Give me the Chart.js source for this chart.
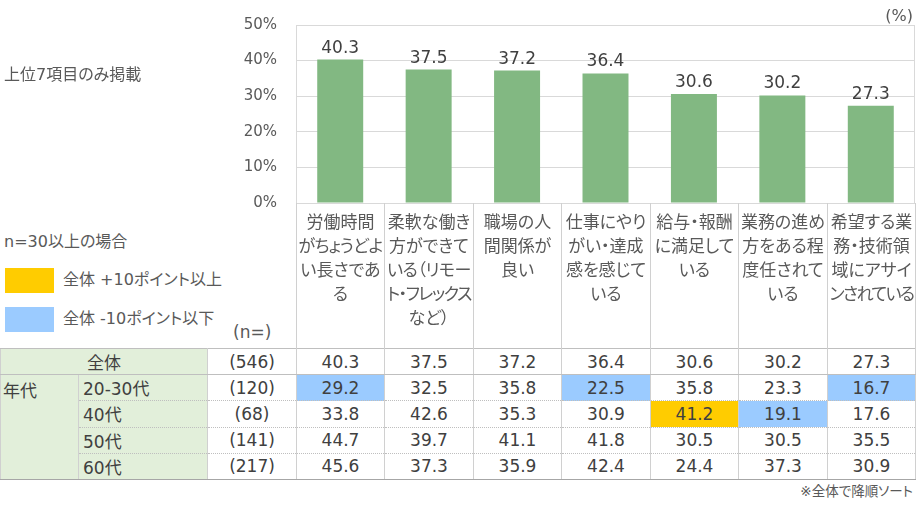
<!DOCTYPE html>
<html lang="ja">
<head>
<meta charset="utf-8">
<style>
  body { margin: 0; background: #fff; }
  #wrap { position: relative; width: 918px; height: 505px; overflow: hidden;
          font-family: "DejaVu Sans", "Noto Sans CJK JP", sans-serif; color: #595959;
          font-feature-settings: "palt"; }
  #chartBox { position: absolute; left: 0; top: 0; width: 918px; height: 215px; }
  .txt { position: absolute; white-space: nowrap; line-height: 20px; font-size: 16px; }
  .box { position: absolute; left: 5px; width: 49px; height: 25px; }
  .cat { position: absolute; top: 203px; height: 145px; box-sizing: border-box; border-left: 1px solid #D0D0D0;
         text-align: center; font-size: 17px; line-height: 24px; padding-top: 7px; white-space: nowrap; color: #595959; }
  .cat span { display: inline-block; }
  #tbl { position: absolute; left: 0; top: 348px; border-collapse: collapse; table-layout: fixed; font-size: 17px; }
  #tbl td { height: 25.2px; padding: 0; white-space: nowrap; color: #404040; text-align: center;
            border-left: 1px solid #D0D0D0; border-right: 1px solid #D0D0D0; }
  #tbl td.lab { background: #E2EFDA; text-align: left; padding-left: 4px; color: #404040; }
  #tbl tr.top td { border-top: 1px solid #BFBFBF; border-bottom: 1px solid #BFBFBF; }
  #tbl tr.age td { border-top: 1px dotted #BFBFBF; }
  #tbl tr.last td { border-bottom: 1px solid #A6A6A6; }
</style>
</head>
<body>
<div id="wrap">
  <div id="chartBox"><canvas id="chart"></canvas></div>
  <div class="txt" style="left:4px; top:65px;">上位7項目のみ掲載</div>
  <div class="txt" style="right:5px; top:6px;">(%)</div>
  <div class="txt" style="left:4px; top:232px;">n=30以上の場合</div>
  <div class="box" style="top:268px; background:#FFCC00;"></div>
  <div class="box" style="top:307px; background:#9BCBFF;"></div>
  <div class="txt" style="left:63px; top:270px;">全体 +10ポイント以上</div>
  <div class="txt" style="left:63px; top:309px;">全体 -10ポイント以下</div>
  <div class="txt" style="left:233px; top:322px; font-size:17px;">(n=)</div>
  <div class="txt" style="right:5px; top:481px; font-size:13.5px;">※全体で降順ソート</div>
  <div id="cats"></div>
  <table id="tbl"></table>
</div>

<script src="https://cdn.jsdelivr.net/npm/chart.js"></script>
<script>
// category labels, line breaks as in the original
const categories = [
  ['労働時間', 'がちょうどよ', 'い長さであ', 'る'],
  ['柔軟な働き', '方ができて', 'いる（リモー', 'ト・フレックス', 'など）'],
  ['職場の人', '間関係が', '良い'],
  ['仕事にやり', 'がい・達成', '感を感じて', 'いる'],
  ['給与・報酬', 'に満足して', 'いる'],
  ['業務の進め', '方をある程', '度任されて', 'いる'],
  ['希望する業', '務・技術領', '域にアサイ', 'ンされている']
];
const overall = [40.3, 37.5, 37.2, 36.4, 30.6, 30.2, 27.3];
const overallN = 546;
const ageGroups = ['20-30代', '40代', '50代', '60代'];
const ageN = [120, 68, 141, 217];
const age2030 = [29.2, 32.5, 35.8, 22.5, 35.8, 23.3, 16.7];
const age40 = [33.8, 42.6, 35.3, 30.9, 41.2, 19.1, 17.6];
const age50 = [44.7, 39.7, 41.1, 41.8, 30.5, 30.5, 35.5];
const age60 = [45.6, 37.3, 35.9, 42.4, 24.4, 37.3, 30.9];
const yTicks = [0, 10, 20, 30, 40, 50];

const ageValues = [age2030, age40, age50, age60];

// right border of the plot box
const frame = {
  id: 'frame',
  afterDraw(c) {
    const a = c.chartArea, ctx = c.ctx;
    ctx.save();
    ctx.strokeStyle = '#D9D9D9';
    ctx.lineWidth = 1;
    ctx.beginPath();
    ctx.moveTo(a.right - 0.5, a.top);
    ctx.lineTo(a.right - 0.5, a.bottom);
    ctx.stroke();
    ctx.restore();
  }
};

// values above bars
const valueLabels = {
  id: 'valueLabels',
  afterDatasetsDraw(c) {
    const ctx = c.ctx;
    ctx.save();
    ctx.font = '17px "DejaVu Sans"';
    ctx.fillStyle = '#404040';
    ctx.textAlign = 'center';
    ctx.textBaseline = 'alphabetic';
    c.getDatasetMeta(0).data.forEach(function(bar, i) {
      ctx.fillText(overall[i].toFixed(1), bar.x, bar.y - 7);
    });
    ctx.restore();
  }
};

const chart = new Chart(document.getElementById('chart'), {
  type: 'bar',
  data: {
    labels: categories.map(c => c.join('')),
    datasets: [{
      data: overall,
      backgroundColor: '#82B882',
      barPercentage: 0.52,
      categoryPercentage: 1
    }]
  },
  options: {
    responsive: true,
    maintainAspectRatio: false,
    animation: false,
    devicePixelRatio: 1,
    layout: { padding: { top: 25, right: 3, bottom: 12, left: 0 } },
    plugins: { legend: { display: false }, tooltip: { enabled: false } },
    scales: {
      x: { display: false },
      y: {
        min: 0,
        max: 50,
        afterBuildTicks: s => { s.ticks = yTicks.map(v => ({ value: v })); },
        afterFit: s => { s.width = 296; },
        ticks: {
          callback: v => v + '%',
          color: '#595959',
          font: { family: 'DejaVu Sans', size: 15 },
          padding: 0
        },
        // invisible tick marks push the labels away from the axis
        grid: { color: '#D9D9D9', drawTicks: true, tickLength: 19, tickColor: 'rgba(0,0,0,0)' },
        border: { color: '#D9D9D9' }
      }
    }
  },
  plugins: [frame, valueLabels]
});

// header cells + table aligned to the chart columns
const area = chart.chartArea;
const colW = (area.right - area.left) / categories.length;
const cats = document.getElementById('cats');
categories.forEach(function(lines, i) {
  const d = document.createElement('div');
  d.className = 'cat';
  const l = Math.round(area.left + i * colW);
  const r = Math.round(area.left + (i + 1) * colW);
  d.style.left = l + 'px';
  d.style.width = (r - l + (i === categories.length - 1 ? 1 : 0)) + 'px';
  if (i === categories.length - 1) d.style.borderRight = '1px solid #D0D0D0';
  d.innerHTML = lines.map(t => '<span>' + t + '</span>').join('<br>');
  cats.appendChild(d);
});
// squeeze kana-heavy lines a little so they fit the column
document.querySelectorAll('.cat span').forEach(function(s) {
  const w = s.getBoundingClientRect().width, max = 84;
  if (w > max) s.style.letterSpacing = ((max - w) / s.textContent.length).toFixed(2) + 'px';
});

function cellColor(v, base, n) {
  if (n < 30) return '';
  if (v - base >= 10) return '#FFCC00';
  if (v - base <= -10) return '#9BCBFF';
  return '';
}

let html = '<colgroup><col style="width:78px"><col style="width:129px"><col style="width:' + (Math.round(area.left) - 207) + 'px">';
for (let i = 0; i < categories.length; i++) {
  const l = Math.round(area.left + i * colW), r = Math.round(area.left + (i + 1) * colW);
  html += '<col style="width:' + (r - l) + 'px">';
}
html += '</colgroup>';
html += '<tr class="top"><td class="lab" colspan="2" style="text-align:center;padding-left:0">全体</td><td>(' + overallN + ')</td>';
overall.forEach(v => { html += '<td>' + v.toFixed(1) + '</td>'; });
html += '</tr>';
ageGroups.forEach(function(g, r) {
  html += '<tr class="' + (r > 0 ? 'age' : '') + (r === ageGroups.length - 1 ? ' last' : '') + '">';
  if (r === 0) html += '<td class="lab" rowspan="' + ageGroups.length + '" style="vertical-align:top;padding-top:2px;padding-left:2px;border-bottom:1px solid #A6A6A6">年代</td>';
  html += '<td class="lab">' + g + '</td><td>(' + ageN[r] + ')</td>';
  ageValues[r].forEach(function(v, i) {
    const bg = cellColor(v, overall[i], ageN[r]);
    html += '<td' + (bg ? ' style="background:' + bg + '"' : '') + '>' + v.toFixed(1) + '</td>';
  });
  html += '</tr>';
});
document.getElementById('tbl').innerHTML = html;
</script>
</body>
</html>
